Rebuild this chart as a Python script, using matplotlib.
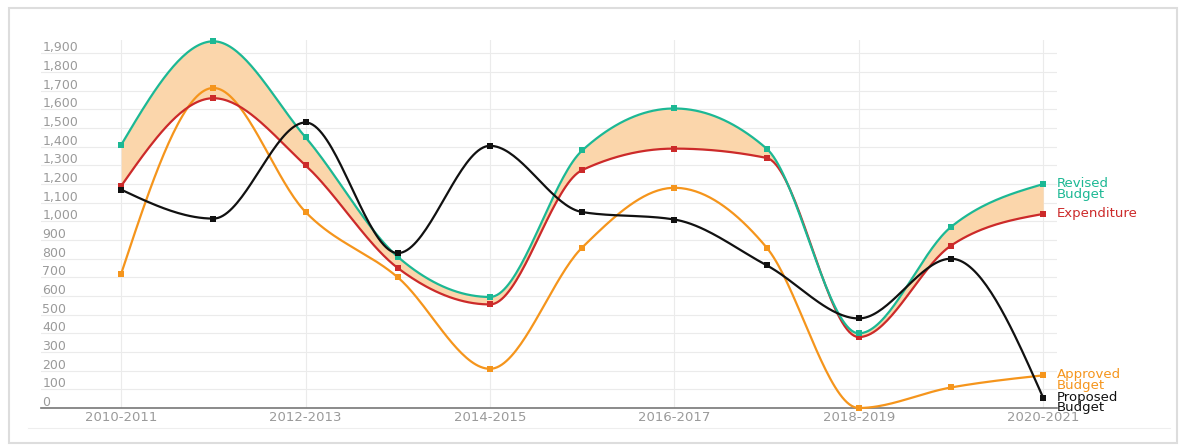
import numpy as np
import matplotlib
matplotlib.use('Agg')
import matplotlib.pyplot as plt
from matplotlib.patches import FancyBboxPatch
from matplotlib.lines import Line2D

# ===== Data =====
years = ['2010-2011', '2011-2012', '2012-2013', '2013-2014', '2014-2015', '2015-2016',
         '2016-2017', '2017-2018', '2018-2019', '2019-2020', '2020-2021']
revised = [1410, 1965, 1450, 810, 595, 1380, 1605, 1390, 400, 970, 1200]
expenditure = [1190, 1660, 1300, 750, 555, 1275, 1390, 1340, 380, 870, 1040]
approved = [720, 1715, 1050, 700, 210, 860, 1180, 860, 0, 110, 175]
proposed = [1170, 1015, 1530, 830, 1405, 1050, 1010, 765, 480, 800, 55]

C_REV = '#1cb894'
C_EXP = '#cc2a2a'
C_APP = '#f5951c'
C_PRO = '#111111'
C_FILL = '#fbd6ab'
GRID = '#ebebeb'
TXT = '#9a9a9a'


def monotone_x(y, n=40):
    """d3 curveMonotoneX style smoothing between the data points."""
    y = np.asarray(y, dtype=float)
    x = np.arange(len(y), dtype=float)
    h = np.diff(x)
    s = np.diff(y) / h
    t = np.zeros(len(y))
    for i in range(1, len(y) - 1):
        s0, s1 = s[i - 1], s[i]
        p = (s0 * h[i] + s1 * h[i - 1]) / (h[i - 1] + h[i])
        t[i] = (np.sign(s0) + np.sign(s1)) * min(abs(s0), abs(s1), 0.5 * abs(p))
    t[0] = (3 * s[0] - t[1]) / 2
    t[-1] = (3 * s[-1] - t[-2]) / 2
    xs, ys = [], []
    u = np.linspace(0, 1, n)
    for i in range(len(y) - 1):
        dx = h[i]
        p0 = (x[i], y[i])
        p1 = (x[i] + dx / 3, y[i] + dx * t[i] / 3)
        p2 = (x[i + 1] - dx / 3, y[i + 1] - dx * t[i + 1] / 3)
        p3 = (x[i + 1], y[i + 1])
        b = [(1 - u) ** 3, 3 * (1 - u) ** 2 * u, 3 * (1 - u) * u ** 2, u ** 3]
        bx = b[0] * p0[0] + b[1] * p1[0] + b[2] * p2[0] + b[3] * p3[0]
        by = b[0] * p0[1] + b[1] * p1[1] + b[2] * p2[1] + b[3] * p3[1]
        if i > 0:
            bx, by = bx[1:], by[1:]
        xs.append(bx)
        ys.append(by)
    return np.concatenate(xs), np.concatenate(ys)


fig = plt.figure(figsize=(11.86, 4.48), dpi=100)

# card with soft border
card = FancyBboxPatch((0.008, 0.012), 0.984, 0.97, boxstyle='square,pad=0',
                      transform=fig.transFigure, facecolor='none',
                      edgecolor='#dddddd', lw=1.5, zorder=-1)
fig.patches.append(card)
fig.lines.append(Line2D([28 / 1186, 1170 / 1186], [1 - 428 / 448] * 2,
                        transform=fig.transFigure, color='#eeeeee', lw=0.8))

ax = fig.add_axes([41 / 1186, 40 / 448, (1057 - 41) / 1186, (408 - 40) / 448])
ax.set_facecolor('none')

xr, yr = monotone_x(revised)
_, ye = monotone_x(expenditure)
ax.fill_between(xr, yr, ye, color=C_FILL, lw=0, zorder=2)

x = np.arange(len(years))
for vals, col in [(approved, C_APP), (expenditure, C_EXP), (revised, C_REV), (proposed, C_PRO)]:
    xs, ys = monotone_x(vals)
    ax.plot(xs, ys, color=col, lw=1.6, zorder=3, solid_capstyle='round', clip_on=False)
    ax.plot(x, vals, ls='none', marker='s', ms=5, mew=0, color=col, zorder=4, clip_on=False)

ax.set_xlim(-0.87, 10.15)
ax.set_ylim(0, 1972)

# horizontal grid + inside y labels
for v in range(100, 2000, 100):
    ax.axhline(v, color=GRID, lw=0.8, zorder=1)
for v in range(0, 2000, 100):
    ax.annotate(f'{v:,}', xy=(0, v), xycoords=('axes fraction', 'data'),
                xytext=(1, 1.5), textcoords='offset points', ha='left', va='baseline',
                fontsize=9, color=TXT)

# vertical grid at labelled years
ax.set_xticks(x[::2])
ax.set_xticklabels(years[::2], fontsize=9.5, color=TXT)
for xv in x[::2]:
    ax.axvline(xv, color=GRID, lw=0.8, zorder=1)
ax.set_yticks([])
ax.tick_params(axis='x', length=0, pad=2)
for side in ['top', 'right', 'left']:
    ax.spines[side].set_visible(False)
ax.spines['bottom'].set_color('#777777')
ax.spines['bottom'].set_linewidth(1.2)

# end labels
end_labels = [('Revised\nBudget', revised[-1], C_REV),
              ('Expenditure', expenditure[-1], C_EXP),
              ('Approved\nBudget', approved[-1], C_APP),
              ('Proposed\nBudget', proposed[-1], C_PRO)]
for lab, val, col in end_labels:
    ax.annotate(lab, xy=(x[-1], val), xytext=(10, 5), textcoords='offset points',
                ha='left', va='top', fontsize=9.5, color=col, linespacing=0.75,
                annotation_clip=False)

fig.savefig('out.png', dpi=100, facecolor='white')
